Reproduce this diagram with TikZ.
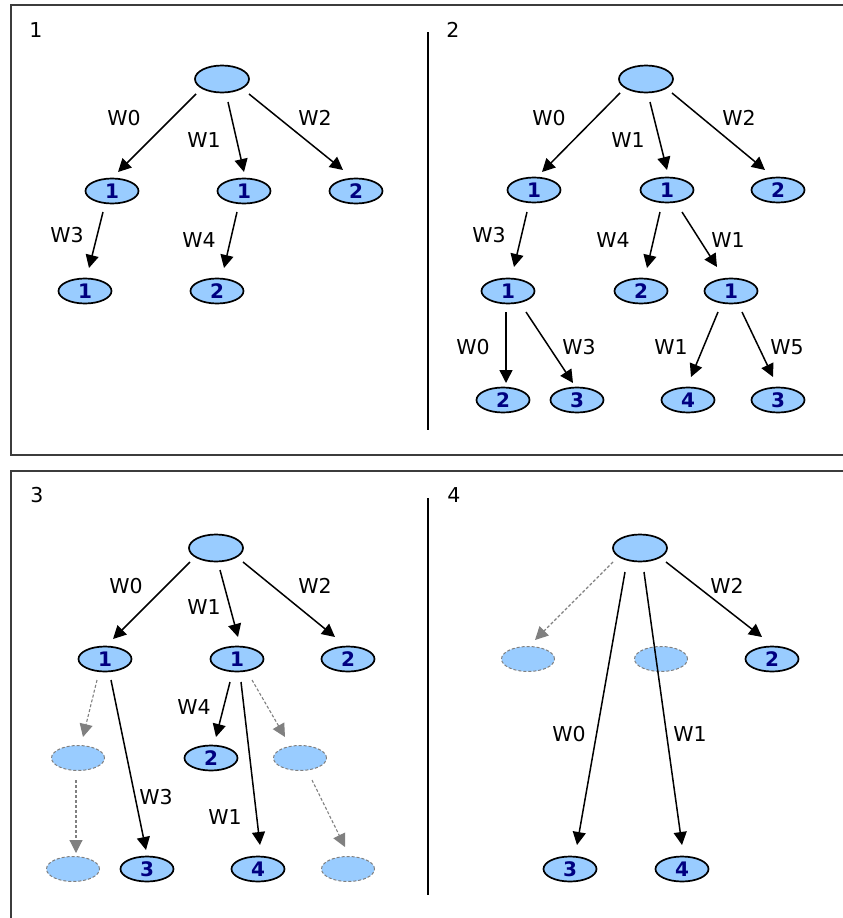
\documentclass[tikz,border=0pt]{standalone}
\usepackage{fontspec}
\setmainfont{DejaVu Sans}
\usetikzlibrary{shapes.geometric,arrows.meta,calc}

\definecolor{nodeblue}{RGB}{153,204,255}
\definecolor{numblue}{RGB}{0,0,128}
\definecolor{framegray}{RGB}{60,60,60}
\definecolor{ghostgray}{RGB}{128,128,128}

\tikzset{
  nd/.style={ellipse, draw=black, line width=1.7pt, fill=nodeblue,
    minimum width=53pt, minimum height=25pt, inner sep=0pt,
    font=\bfseries\fontsize{20}{20}\selectfont, text=numblue},
  rootnd/.style={nd, minimum width=54pt, minimum height=27pt},
  ghost/.style={ellipse, draw=ghostgray, line width=1pt,
    dash pattern=on 3pt off 2pt, fill=nodeblue,
    minimum width=53pt, minimum height=25pt, inner sep=0pt},
  arr/.style={line width=1.5pt, -{Triangle[length=13pt,width=13pt]}},
  garr/.style={draw=ghostgray, line width=1.1pt, dash pattern=on 3pt off 2pt,
    -{Triangle[length=13pt,width=13pt,fill=ghostgray]}},
  lbl/.style={font=\fontsize{20.5}{20.5}\selectfont, inner sep=0pt},
  frame/.style={draw=framegray, line width=1.6pt},
  divider/.style={draw=black, line width=1.4pt}
}

\begin{document}
\begin{tikzpicture}[x=1pt, y=-1pt]
\useasboundingbox[fill=white] (0,0) rectangle (843,918);

% panel frames and dividers
\draw[frame] (843,5) -- (11,5) -- (11,455) -- (843,455);
\draw[frame] (843,471) -- (11,471) -- (11,918);
\draw[divider] (428,32) -- (428,430);
\draw[divider] (428,498) -- (428,895);

% ---------------- panel 1 ----------------
\node[lbl] (t1) at (36,30) {1};
\node[rootnd] (p1r) at (222,79) {};
\node[nd] (p1a) at (112,191) {1};
\node[nd] (p1b) at (244,191) {1};
\node[nd] (p1c) at (356,191) {2};
\node[nd] (p1d) at (85,291) {1};
\node[nd] (p1e) at (217,291) {2};

\draw[arr] ($(p1r)+(-26,15)$) -- ($(p1a)+(6,-19)$);
\draw[arr] ($(p1r)+(6,23)$) -- ($(p1b)+(0,-19)$);
\draw[arr] ($(p1r)+(27,15)$) -- ($(p1c)+(-13,-21)$);
\draw[arr] ($(p1a)+(-9,21)$) -- ($(p1d)+(4,-23)$);
\draw[arr] ($(p1b)+(-7,21)$) -- ($(p1e)+(7,-23)$);

\node[lbl] (p1w0) at (124,118) {W0};
\node[lbl] (p1w1) at (204,140) {W1};
\node[lbl] (p1w2) at (315,118) {W2};
\node[lbl] (p1w3) at (67,235) {W3};
\node[lbl] (p1w4) at (199,240) {W4};

% ---------------- panel 2 ----------------
\node[lbl] (t2) at (453,30) {2};
\node[rootnd] (p2r) at (646,79) {};
\node[nd] (p2a) at (534,190) {1};
\node[nd] (p2b) at (667,190) {1};
\node[nd] (p2c) at (778,190) {2};
\node[nd] (p2d) at (508,291) {1};
\node[nd] (p2e) at (641,291) {2};
\node[nd] (p2f) at (731,291) {1};
\node[nd] (p2g) at (503,400) {2};
\node[nd] (p2h) at (577,400) {3};
\node[nd] (p2i) at (688,400) {4};
\node[nd] (p2j) at (778,400) {3};

\draw[arr] ($(p2r)+(-26,14)$) -- ($(p2a)+(8,-18)$);
\draw[arr] ($(p2r)+(4,23)$) -- ($(p2b)+(0,-20)$);
\draw[arr] ($(p2r)+(26,14)$) -- ($(p2c)+(-13,-20)$);
\draw[arr] ($(p2a)+(-7,22)$) -- ($(p2d)+(6,-24)$);
\draw[arr] ($(p2b)+(-7,22)$) -- ($(p2e)+(6,-23)$);
\draw[arr] ($(p2b)+(15,22)$) -- ($(p2f)+(-14,-24)$);
\draw[arr] ($(p2d)+(-2,21)$) -- ($(p2g)+(3,-17)$);
\draw[arr] ($(p2d)+(18,21)$) -- ($(p2h)+(-4,-17)$);
\draw[arr] ($(p2f)+(-13,21)$) -- ($(p2i)+(3,-23)$);
\draw[arr] ($(p2f)+(11,21)$) -- ($(p2j)+(-5,-23)$);

\node[lbl] (p2w0) at (549,118) {W0};
\node[lbl] (p2w1) at (628,140) {W1};
\node[lbl] (p2w2) at (739,118) {W2};
\node[lbl] (p2w3) at (489,235) {W3};
\node[lbl] (p2w4) at (613,240) {W4};
\node[lbl] (p2w1b) at (728,240) {W1};
\node[lbl] (p2w0b) at (473,347) {W0};
\node[lbl] (p2w3b) at (579,347) {W3};
\node[lbl] (p2w1c) at (671,347) {W1};
\node[lbl] (p2w5) at (787,347) {W5};

% ---------------- panel 3 ----------------
\node[lbl] (t3) at (37,495) {3};
\node[rootnd] (p3r) at (216,548) {};
\node[nd] (p3a) at (105,659) {1};
\node[nd] (p3b) at (237,659) {1};
\node[nd] (p3c) at (348,659) {2};
\node[ghost] (p3g1) at (78,758) {};
\node[nd] (p3e) at (211,758) {2};
\node[ghost] (p3g2) at (300,758) {};
\node[ghost] (p3g3) at (73,869) {};
\node[nd] (p3h) at (147,869) {3};
\node[nd] (p3i) at (258,869) {4};
\node[ghost] (p3g4) at (348,869) {};

\draw[arr] ($(p3r)+(-26,14)$) -- ($(p3a)+(8,-20)$);
\draw[arr] ($(p3r)+(4,22)$) -- ($(p3b)+(1,-22)$);
\draw[arr] ($(p3r)+(27,14)$) -- ($(p3c)+(-13,-22)$);
\draw[garr] ($(p3a)+(-8,21)$) -- ($(p3g1)+(5,-21)$);
\draw[arr] ($(p3a)+(6,21)$) -- ($(p3h)+(-1,-19)$);
\draw[arr] ($(p3b)+(-7,23)$) -- ($(p3e)+(5,-21)$);
\draw[arr] ($(p3b)+(4,23)$) -- ($(p3i)+(2,-24)$);
\draw[garr] ($(p3b)+(15,21)$) -- ($(p3g2)+(-15,-21)$);
\draw[garr] ($(p3g1)+(-2,22)$) -- ($(p3g3)+(3,-16)$);
\draw[garr] ($(p3g2)+(12,22)$) -- ($(p3g4)+(-3,-22)$);

\node[lbl] (p3w0) at (126,586) {W0};
\node[lbl] (p3w1) at (204,607) {W1};
\node[lbl] (p3w2) at (315,586) {W2};
\node[lbl] (p3w4) at (194,707) {W4};
\node[lbl] (p3w3) at (156,797) {W3};
\node[lbl] (p3w1b) at (225,817) {W1};

% ---------------- panel 4 ----------------
\node[lbl] (t4) at (454,495) {4};
\node[rootnd] (p4r) at (640,548) {};
\node[ghost] (p4g1) at (528,659) {};
\node[ghost] (p4g2) at (661,659) {};
\node[nd] (p4c) at (772,659) {2};
\node[nd] (p4d) at (570,869) {3};
\node[nd] (p4e) at (682,869) {4};

\draw[garr] ($(p4r)+(-27,14)$) -- ($(p4g1)+(7,-19)$);
\draw[arr] ($(p4r)+(-15,24)$) -- ($(p4d)+(7,-24)$);
\draw[arr] ($(p4r)+(4,24)$) -- ($(p4e)+(0,-24)$);
\draw[arr] ($(p4r)+(26,14)$) -- ($(p4c)+(-10,-22)$);

\node[lbl] (p4w2) at (727,586) {W2};
\node[lbl] (p4w0) at (569,734) {W0};
\node[lbl] (p4w1) at (690,734) {W1};
\end{tikzpicture}
\end{document}
